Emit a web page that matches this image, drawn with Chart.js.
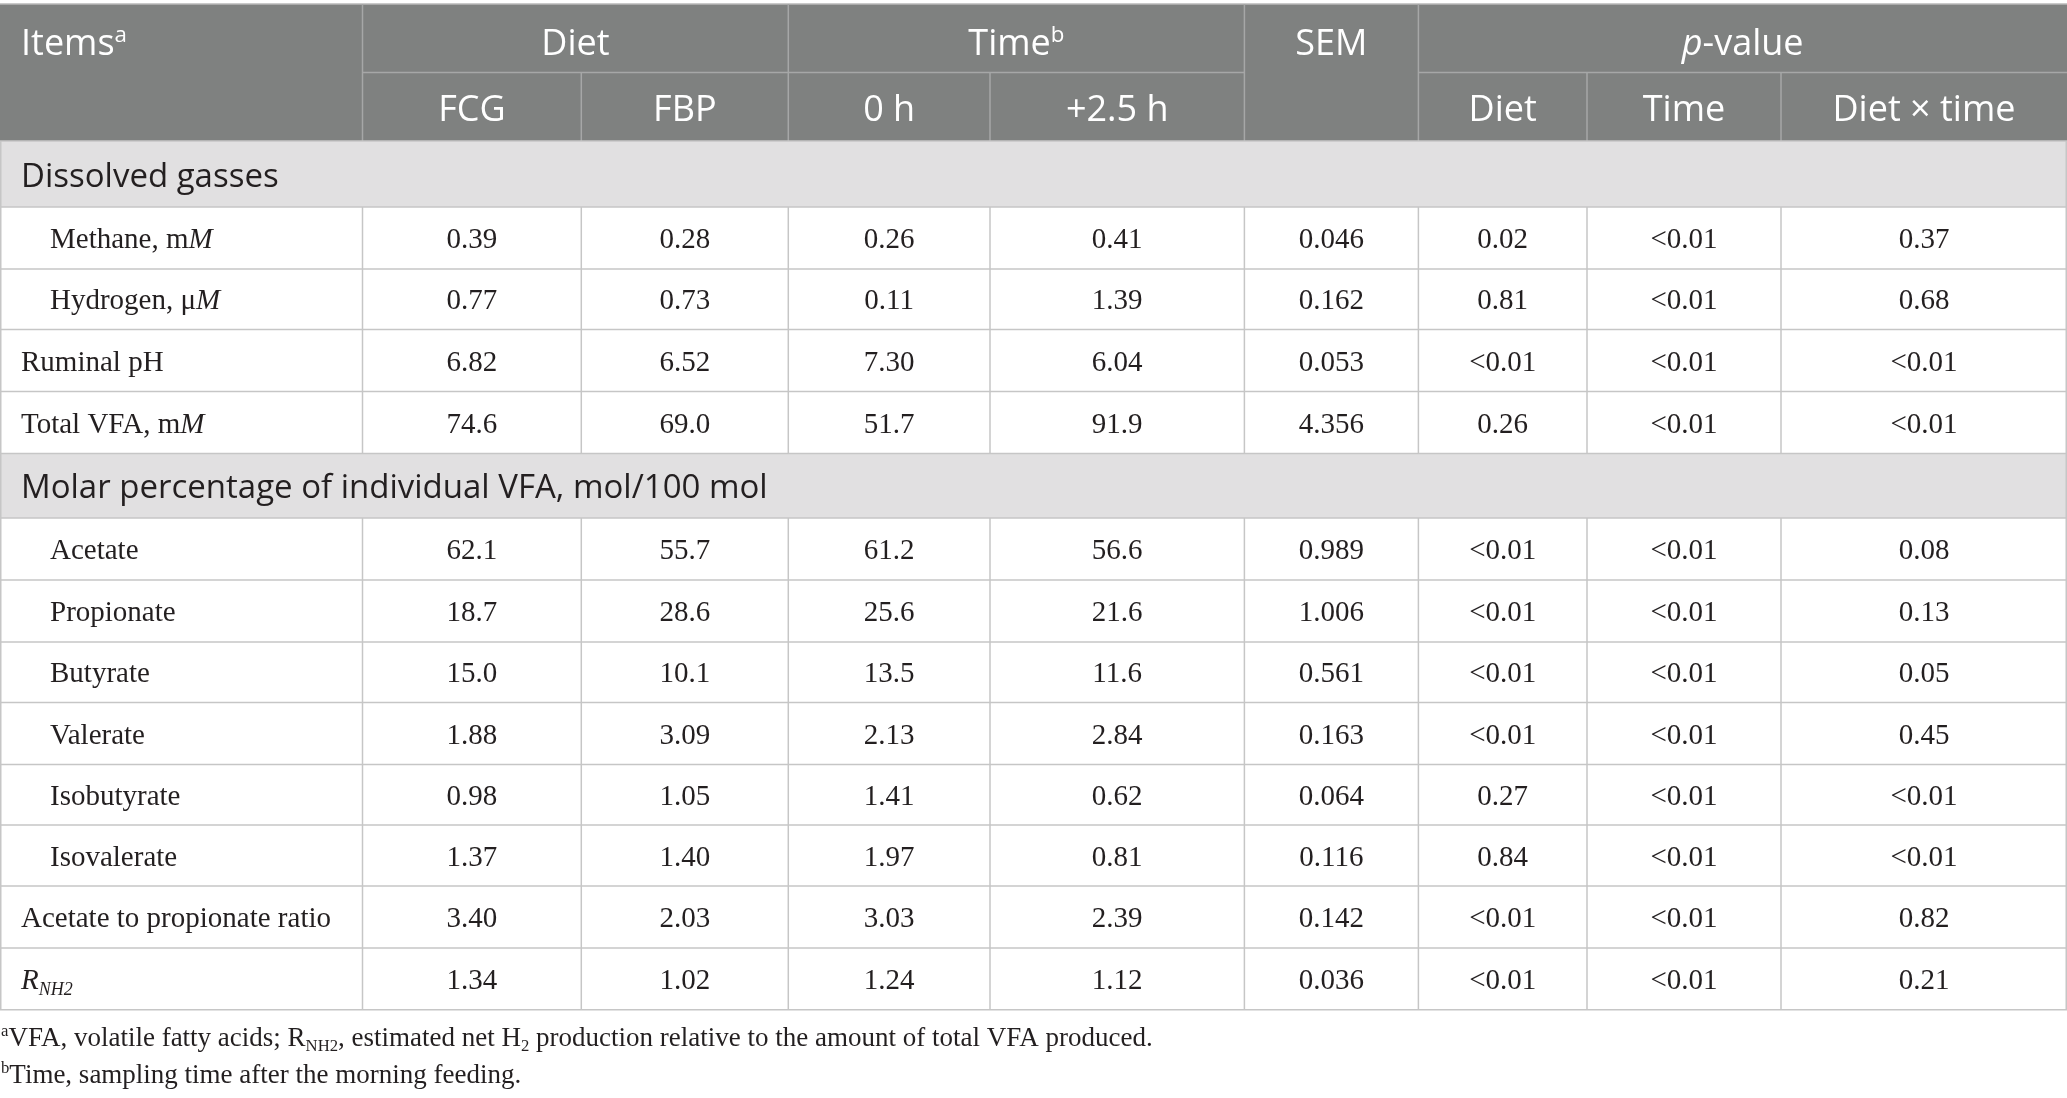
<!DOCTYPE html>
<html>
<head>
<meta charset="utf-8">
<script src="https://cdn.jsdelivr.net/npm/chart.js@4.4.1/dist/chart.umd.min.js"></script>
<style>
  html, body { margin: 0; padding: 0; background: #ffffff; }
  #wrap { width: 2067px; height: 1098px; }
</style>
</head>
<body>
<div id="wrap"><canvas id="tableChart" width="2067" height="1098"></canvas></div>
<script>
// ---- table content ----
const sections = ['Dissolved gasses', 'Molar percentage of individual VFA, mol/100 mol'];
const sectionStarts = [0, 4]; // section heading goes before this item
const items = ['Methane, m*M*', 'Hydrogen, μ*M*', 'Ruminal pH', 'Total VFA, m*M*',
  'Acetate', 'Propionate', 'Butyrate', 'Valerate', 'Isobutyrate', 'Isovalerate',
  'Acetate to propionate ratio', '*R~NH2~*'];
const indented = [1, 1, 0, 0, 1, 1, 1, 1, 1, 1, 0, 0];

const dietFCG = ['0.39', '0.77', '6.82', '74.6', '62.1', '18.7', '15.0', '1.88', '0.98', '1.37', '3.40', '1.34'];
const dietFBP = ['0.28', '0.73', '6.52', '69.0', '55.7', '28.6', '10.1', '3.09', '1.05', '1.40', '2.03', '1.02'];
const time0h = ['0.26', '0.11', '7.30', '51.7', '61.2', '25.6', '13.5', '2.13', '1.41', '1.97', '3.03', '1.24'];
const time25h = ['0.41', '1.39', '6.04', '91.9', '56.6', '21.6', '11.6', '2.84', '0.62', '0.81', '2.39', '1.12'];
const sem = ['0.046', '0.162', '0.053', '4.356', '0.989', '1.006', '0.561', '0.163', '0.064', '0.116', '0.142', '0.036'];
const pDiet = ['0.02', '0.81', '<0.01', '0.26', '<0.01', '<0.01', '<0.01', '<0.01', '0.27', '0.84', '<0.01', '<0.01'];
const pTime = ['<0.01', '<0.01', '<0.01', '<0.01', '<0.01', '<0.01', '<0.01', '<0.01', '<0.01', '<0.01', '<0.01', '<0.01'];
const pDietTime = ['0.37', '0.68', '<0.01', '<0.01', '0.08', '0.13', '0.05', '0.45', '<0.01', '<0.01', '0.82', '0.21'];

const groupHeads = ['Items^a^', 'Diet', 'Time^b^', 'SEM', '*p*-value'];
const subHeads = ['FCG', 'FBP', '0 h', '+2.5 h', 'Diet', 'Time', 'Diet × time'];
const footnotes = [
  '^a^VFA, volatile fatty acids; R~NH2~, estimated net H~2~ production relative to the amount of total VFA produced.',
  '^b^Time, sampling time after the morning feeding.'
];

// ---- layout (scale units = pixels of the picture) ----
const W = 2067, H = 1098;
const colEdges = [0, 362.5, 581.3, 788.3, 990, 1244.4, 1418.4, 1587, 1781, 2067];
const rowEdges = [4, 72.5, 141, 207, 269, 329.5, 391.5, 453.5, 518, 580, 642, 702.6, 764.6, 825, 886, 948, 1009.7];
const groupSpans = [[0, 1], [1, 3], [3, 5], [5, 6], [6, 9]]; // column index ranges
const footBase = [1046, 1083];

const headBg = '#7f8180', headLine = '#a6a7a7', secBg = '#e1e0e1', gridLine = '#c6c6c6';
const ink = '#231f20';
const sans = '"Open Sans", sans-serif', serif = '"Liberation Serif", "Times New Roman", serif';

// body rows: which layout row each item sits in
const itemRow = [];
const sectionRow = [];
let r = 2;
items.forEach(function (it, i) {
  const s = sectionStarts.indexOf(i);
  if (s >= 0) { sectionRow.push(r); r++; }
  itemRow.push(r); r++;
});

const rowMid = i => (rowEdges[i] + rowEdges[i + 1]) / 2;
const colMid = i => (colEdges[i] + colEdges[i + 1]) / 2;

function parseRich(s) {
  const segs = [];
  const st = { it: false, sup: false, sub: false };
  let buf = '';
  for (const ch of s) {
    if (ch === '*' || ch === '^' || ch === '~') {
      if (buf) segs.push({ t: buf, it: st.it, sup: st.sup, sub: st.sub });
      buf = '';
      if (ch === '*') st.it = !st.it;
      else if (ch === '^') st.sup = !st.sup;
      else st.sub = !st.sub;
    } else buf += ch;
  }
  if (buf) segs.push({ t: buf, it: st.it, sup: st.sup, sub: st.sub });
  return segs;
}

function drawRich(ctx, s, x, y, size, family, color, align) {
  const segs = parseRich(s);
  const fontOf = g => (g.it ? 'italic ' : '') + ((g.sup || g.sub) ? size * 0.62 : size).toFixed(1) + 'px ' + family;
  let w = 0;
  segs.forEach(function (g) { ctx.font = fontOf(g); g.w = ctx.measureText(g.t).width; w += g.w; });
  let cx = align === 'center' ? x - w / 2 : x;
  ctx.fillStyle = color;
  ctx.textAlign = 'left';
  ctx.textBaseline = 'alphabetic';
  segs.forEach(function (g) {
    ctx.font = fontOf(g);
    const dy = g.sup ? -size * 0.36 : (g.sub ? size * 0.2 : 0);
    ctx.fillText(g.t, cx, y + dy);
    cx += g.w;
  });
}

function line(ctx, x1, y1, x2, y2) {
  ctx.beginPath(); ctx.moveTo(x1, y1); ctx.lineTo(x2, y2); ctx.stroke();
}

// backgrounds, rules and headings
const tableFrame = {
  id: 'tableFrame',
  beforeDatasetsDraw(chart) {
    const ctx = chart.ctx;
    const X = v => chart.scales.x.getPixelForValue(v);
    const Y = v => chart.scales.y.getPixelForValue(v);
    const last = rowEdges.length - 1;
    ctx.save();

    // header block
    ctx.fillStyle = headBg;
    ctx.fillRect(X(0), Y(rowEdges[0]), X(W) - X(0), Y(rowEdges[2]) - Y(rowEdges[0]));
    ctx.lineWidth = 1.5;
    ctx.strokeStyle = '#b9b9b9';
    line(ctx, X(0), Y(rowEdges[0]), X(W), Y(rowEdges[0]));
    ctx.strokeStyle = headLine;
    line(ctx, X(colEdges[1]), Y(rowEdges[1]), X(colEdges[5]), Y(rowEdges[1]));
    line(ctx, X(colEdges[6]), Y(rowEdges[1]), X(W), Y(rowEdges[1]));
    [1, 3, 5, 6].forEach(c => line(ctx, X(colEdges[c]), Y(rowEdges[0]), X(colEdges[c]), Y(rowEdges[2])));
    [2, 4, 7, 8].forEach(c => line(ctx, X(colEdges[c]), Y(rowEdges[1]), X(colEdges[c]), Y(rowEdges[2])));

    // section bands
    ctx.fillStyle = secBg;
    sectionRow.forEach(sr => ctx.fillRect(X(0), Y(rowEdges[sr]), X(W) - X(0), Y(rowEdges[sr + 1]) - Y(rowEdges[sr])));

    // body rules
    ctx.strokeStyle = gridLine;
    ctx.lineWidth = 1.5;
    for (let i = 2; i <= last; i++) line(ctx, X(0), Y(rowEdges[i]), X(W), Y(rowEdges[i]));
    line(ctx, X(0) + 0.75, Y(rowEdges[2]), X(0) + 0.75, Y(rowEdges[last]));
    line(ctx, X(W) - 0.75, Y(rowEdges[2]), X(W) - 0.75, Y(rowEdges[last]));
    itemRow.forEach(function (ir) {
      for (let c = 1; c < colEdges.length - 1; c++) {
        line(ctx, X(colEdges[c]), Y(rowEdges[ir]), X(colEdges[c]), Y(rowEdges[ir + 1]));
      }
    });

    // header texts
    groupHeads.forEach(function (t, g) {
      const sp = groupSpans[g];
      const x = g === 0 ? X(colEdges[0]) + 21 : (X(colEdges[sp[0]]) + X(colEdges[sp[1]])) / 2;
      drawRich(ctx, t, x, Y(rowEdges[1]) - 18, 36, sans, '#ffffff', g === 0 ? 'left' : 'center');
    });
    subHeads.forEach(function (t, i) {
      const c = [1, 2, 3, 4, 6, 7, 8][i];
      drawRich(ctx, t, X(colMid(c)), Y(rowEdges[2]) - 20, 36, sans, '#ffffff', 'center');
    });

    // section texts
    sections.forEach(function (t, s) {
      drawRich(ctx, t, X(colEdges[0]) + 21, Y(rowMid(sectionRow[s])) + 12.5, 33, sans, ink, 'left');
    });

    // footnotes
    footnotes.forEach(function (t, i) {
      drawRich(ctx, t, X(0) + 1, Y(footBase[i]), 27, serif, ink, 'left');
    });
    ctx.restore();
  },
  // cell values at each point the scatter datasets place
  afterDatasetsDraw(chart) {
    const ctx = chart.ctx;
    ctx.save();
    chart.data.datasets.forEach(function (ds, di) {
      const meta = chart.getDatasetMeta(di);
      meta.data.forEach(function (pt, i) {
        drawRich(ctx, ds.texts[i], pt.x, pt.y + 10, 29, serif, ink, ds.align);
      });
    });
    ctx.restore();
  }
};

const valueCols = [dietFCG, dietFBP, time0h, time25h, sem, pDiet, pTime, pDietTime];
const datasets = [{
  label: 'Items',
  texts: items,
  align: 'left',
  data: items.map((t, i) => ({ x: colEdges[0] + (indented[i] ? 50 : 21), y: rowMid(itemRow[i]) })),
  pointRadius: 0
}].concat(valueCols.map(function (vals, c) {
  return {
    label: subHeads[c],
    texts: vals,
    align: 'center',
    data: vals.map((v, i) => ({ x: colMid(c + 1), y: rowMid(itemRow[i]) })),
    pointRadius: 0
  };
}));

new Chart(document.getElementById('tableChart').getContext('2d'), {
  type: 'scatter',
  data: { datasets: datasets },
  options: {
    responsive: false,
    devicePixelRatio: 1,
    animation: false,
    events: [],
    layout: { padding: 0 },
    plugins: { legend: { display: false }, tooltip: { enabled: false } },
    scales: {
      x: { type: 'linear', min: 0, max: W, display: false },
      y: { type: 'linear', min: 0, max: H, reverse: true, display: false }
    }
  },
  plugins: [tableFrame]
});
</script>
</body>
</html>
